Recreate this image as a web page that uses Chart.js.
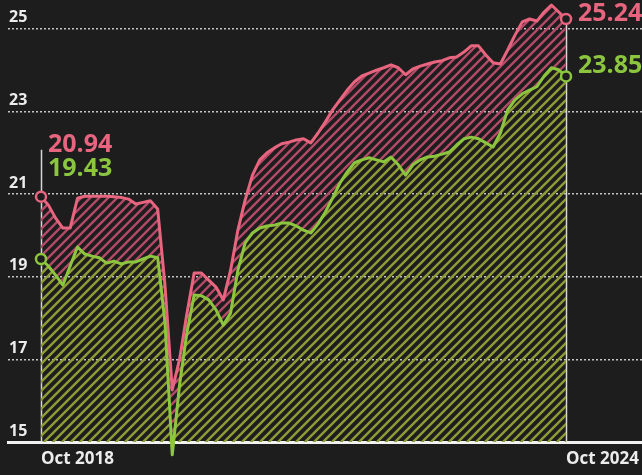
<!DOCTYPE html>
<html>
<head>
<meta charset="utf-8">
<script src="https://cdn.jsdelivr.net/npm/chart.js@4/dist/chart.umd.min.js"></script>
<style>
  html, body { margin: 0; padding: 0; background: #1e1d1e; }
  canvas { display: block; }
</style>
</head>
<body>
<canvas id="valuationChart" width="642" height="475"></canvas>
<script>
// monthly readings, Oct 2018 .. Oct 2024
const pinkValues = [
    20.94, 20.74, 20.42, 20.18, 20.18, 20.90, 20.95, 20.95, 20.95, 20.95,
    20.94, 20.92, 20.88, 20.76, 20.80, 20.84, 20.64, 18.80, 16.26, 17.00,
    18.10, 19.09, 19.09, 18.92, 18.75, 18.44, 19.16, 20.13, 20.86, 21.46,
    21.83, 22.00, 22.12, 22.22, 22.26, 22.31, 22.34, 22.24, 22.48, 22.75,
    23.04, 23.28, 23.52, 23.72, 23.86, 23.93, 24.00, 24.06, 24.13, 24.06,
    23.89, 24.03, 24.10, 24.15, 24.20, 24.23, 24.30, 24.32, 24.44, 24.59,
    24.59, 24.37, 24.18, 24.15, 24.49, 24.85, 25.17, 25.24, 25.19, 25.41,
    25.58, 25.41, 25.24
];
const greenValues = [
    19.43, 19.26, 19.04, 18.80, 19.26, 19.72, 19.55, 19.50, 19.46, 19.33,
    19.38, 19.31, 19.36, 19.36, 19.43, 19.50, 19.46, 17.90, 14.69, 16.38,
    17.64, 18.56, 18.54, 18.44, 18.20, 17.83, 18.12, 19.16, 19.82, 20.06,
    20.18, 20.23, 20.25, 20.30, 20.30, 20.23, 20.13, 20.06, 20.28, 20.57,
    20.91, 21.27, 21.54, 21.76, 21.83, 21.88, 21.83, 21.78, 21.90, 21.71,
    21.46, 21.71, 21.83, 21.90, 21.92, 21.97, 22.02, 22.19, 22.34, 22.38,
    22.34, 22.24, 22.14, 22.48, 23.04, 23.28, 23.43, 23.52, 23.60, 23.86,
    24.06, 24.01, 23.85
];
const xTickLabels = ["Oct 2018", "Oct 2024"];
const yTicks = [15, 17, 19, 21, 23, 25];

const BG = "#1e1d1e";
const PINK = "#e8657f";
const GREEN = "#8cc63f";
const FONT = "'Open Sans', 'Noto Sans', sans-serif";

function hatch(color) {
    const c = document.createElement("canvas");
    c.width = 9;
    c.height = 9;
    const g = c.getContext("2d");
    g.strokeStyle = color;
    g.lineWidth = 2.4;
    g.beginPath();
    g.moveTo(-1, 10); g.lineTo(10, -1);
    g.moveTo(-1, 1); g.lineTo(1, -1);
    g.moveTo(8, 10); g.lineTo(10, 8);
    g.stroke();
    return g.createPattern(c, "repeat");
}

const lastIdx = pinkValues.length - 1;
const toPoints = (arr) => arr.map((v, i) => ({ x: i, y: v }));
const markerRadius = (ctx) => (ctx.dataIndex === 0 || ctx.dataIndex === lastIdx ? 5 : 0);
const noPad = (axis) => {
    axis.paddingLeft = 0; axis.paddingRight = 0;
    axis.paddingTop = 0; axis.paddingBottom = 0;
};

// end lines + value labels
const annotate = {
    id: "annotate",
    beforeDatasetsDraw(chart) {
        const ctx = chart.ctx;
        const x = chart.scales.x, y = chart.scales.y;
        const bottom = y.getPixelForValue(15);
        ctx.save();
        ctx.strokeStyle = "#d8d8d8";
        ctx.lineWidth = 1.5;
        ctx.beginPath();
        const x0 = Math.round(x.getPixelForValue(0)) + 0.5;
        ctx.moveTo(x0, y.getPixelForValue(pinkValues[0]) - 47);
        ctx.lineTo(x0, bottom);
        const x1 = Math.round(x.getPixelForValue(lastIdx)) + 0.5;
        ctx.moveTo(x1, y.getPixelForValue(pinkValues[lastIdx]));
        ctx.lineTo(x1, bottom);
        ctx.stroke();
        ctx.restore();
    },
    afterDatasetsDraw(chart) {
        const ctx = chart.ctx;
        const x = chart.scales.x, y = chart.scales.y;
        ctx.save();
        ctx.font = "bold 25px " + FONT;
        ctx.textAlign = "left";
        ctx.textBaseline = "alphabetic";
        const xs = x.getPixelForValue(0) + 7;
        const ys = y.getPixelForValue(pinkValues[0]);
        ctx.fillStyle = PINK;
        ctx.fillText(pinkValues[0].toFixed(2), xs, ys - 45);
        ctx.fillStyle = GREEN;
        ctx.fillText(greenValues[0].toFixed(2), xs, ys - 21);
        const xe = x.getPixelForValue(lastIdx) + 12;
        ctx.fillStyle = PINK;
        ctx.fillText(pinkValues[lastIdx].toFixed(2), xe, y.getPixelForValue(pinkValues[lastIdx]) + 2);
        ctx.fillStyle = GREEN;
        ctx.fillText(greenValues[lastIdx].toFixed(2), xe, y.getPixelForValue(greenValues[lastIdx]) - 3);
        ctx.restore();
    }
};

const chart = new Chart(document.getElementById("valuationChart").getContext("2d"), {
    type: "line",
    data: {
        datasets: [
        {
            label: "Pink",
            data: toPoints(pinkValues),
            borderColor: PINK,
            borderWidth: 3,
            backgroundColor: hatch("#b24a68"),
            fill: "+1",
            pointRadius: markerRadius,
            pointBorderWidth: 2.5,
            pointBorderColor: PINK,
            pointBackgroundColor: BG,
            borderJoinStyle: "round",
            tension: 0,
            order: 2,
            clip: false,
        },
        {
            label: "Green",
            data: toPoints(greenValues),
            borderColor: GREEN,
            borderWidth: 3,
            backgroundColor: hatch("#8f9c36"),
            fill: "start",
            pointRadius: markerRadius,
            pointBorderWidth: 2.5,
            pointBorderColor: GREEN,
            pointBackgroundColor: BG,
            borderJoinStyle: "round",
            tension: 0,
            order: 1,
            clip: false,
        },
    ],
    },
    options: {
        responsive: false,
        animation: false,
        layout: { autoPadding: false, padding: { left: 8, right: 0, top: 0, bottom: 0 } },
        plugins: {
            legend: { display: false },
            tooltip: { enabled: false },
        },
        scales: {
            x: {
                type: "linear",
                min: -4.526,
                max: 82.42,
                z: 1,
                afterBuildTicks: (axis) => { axis.ticks = [0, lastIdx].map((v) => ({ value: v })); },
                afterFit: (axis) => { axis.height = 33; noPad(axis); },
                grid: { display: false, drawTicks: false },
                border: { display: true, color: "#f2f2f2", width: 3 },
                ticks: {
                    callback: (v, i) => xTickLabels[i],
                    align: "start",
                    maxRotation: 0,
                    autoSkip: false,
                    padding: 7,
                    color: "#ececec",
                    font: { family: FONT, size: 17, weight: "bold" },
                },
            },
            y: {
                min: 15,
                max: 25.7,
                z: 1,
                afterBuildTicks: (axis) => { axis.ticks = yTicks.map((v) => ({ value: v })); },
                afterFit: (axis) => { axis.width = 0; noPad(axis); },
                grid: { color: "rgba(215,215,215,0.9)", lineWidth: 1.5, drawTicks: false },
                border: { display: false, dash: [2, 2] },
                ticks: {
                    mirror: true,
                    padding: 1,
                    labelOffset: -11,
                    color: "#ececec",
                    font: { family: FONT, size: 16, weight: "bold" },
                },
            },
        },
    },
    plugins: [annotate],
});
</script>
</body>
</html>
